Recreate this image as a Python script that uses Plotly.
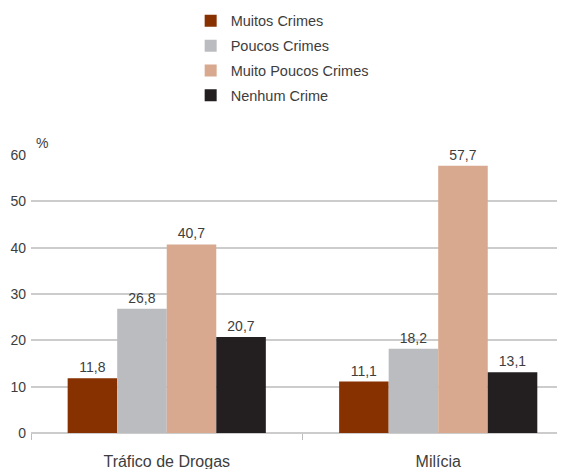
import plotly.graph_objects as go

categories = ["Tráfico de Drogas", "Milícia"]
series_names = ["Muitos Crimes", "Poucos Crimes", "Muito Poucos Crimes", "Nenhum Crime"]
muitos = [11.8, 11.1]
poucos = [26.8, 18.2]
muito_poucos = [40.7, 57.7]
nenhum = [20.7, 13.1]
y_ticks = [0, 10, 20, 30, 40, 50, 60]

series_values = [muitos, poucos, muito_poucos, nenhum]
colors = ["#873000", "#bbbcc0", "#d8a98f", "#231f20"]

FONT = "Liberation Sans, Arial, sans-serif"
TXT = "#3d3d3d"

fig = go.Figure()
for name, vals, col in zip(series_names, series_values, colors):
    fig.add_trace(go.Bar(
        name=name,
        x=categories,
        y=vals,
        marker=dict(color=col, line=dict(width=0)),
        text=[f"{v:.1f}".replace(".", ",") for v in vals],
        textposition="outside",
        textfont=dict(family=FONT, size=14, color=TXT),
        cliponaxis=False,
        legendgroup=name,
    ))

# page body has an 8px default margin; figure is sized to fill the rest
fig.update_layout(
    width=557, height=461,
    margin=dict(l=23, r=0, t=147, b=36, autoexpand=False),
    paper_bgcolor="white", plot_bgcolor="white",
    barmode="group", bargap=0.27, bargroupgap=0,
    font=dict(family=FONT, size=14, color=TXT),
    showlegend=True,
    legend=dict(
        x=0.299, y=1.54, xanchor="left", yanchor="top",
        traceorder="grouped", tracegroupgap=3,
        font=dict(family=FONT, size=14.5, color=TXT),
        bgcolor="rgba(0,0,0,0)",
    ),
    xaxis=dict(
        range=[-0.5, 1.467], automargin=False,
        tickson="boundaries", ticks="outside", ticklen=6, tickcolor="#bdbdbd",
        tickwidth=1,
        showline=False, showgrid=False, zeroline=False,
        tickfont=dict(family=FONT, size=16, color=TXT),
        ticklabelstandoff=17,
    ),
    yaxis=dict(
        range=[0, 60], tickvals=y_ticks, automargin=False,
        showgrid=True, gridcolor="#cccccc", gridwidth=1.5,
        zeroline=True, zerolinecolor="#cccccc", zerolinewidth=1.5,
        showline=False, ticks="",
        tickfont=dict(family=FONT, size=14, color=TXT),
        ticklabelstandoff=4,
    ),
    annotations=[dict(
        text="%", xref="paper", yref="paper", x=0.0, y=1.0,
        xanchor="left", yanchor="bottom", yshift=2, xshift=3,
        showarrow=False, font=dict(family=FONT, size=14, color=TXT),
    )],
)

fig.write_html("out.html")
